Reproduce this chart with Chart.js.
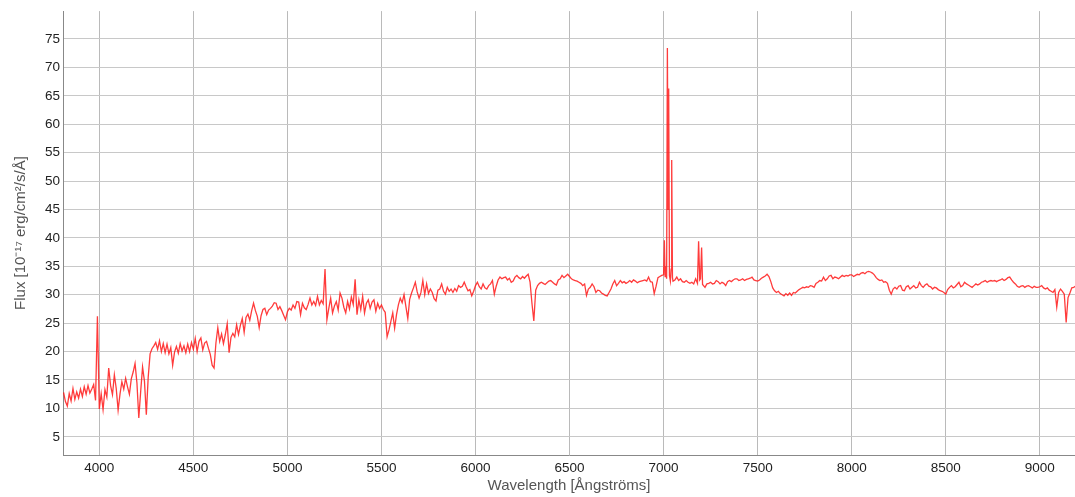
<!DOCTYPE html>
<html>
<head>
<meta charset="utf-8">
<title>Spectrum</title>
<script src="https://cdn.jsdelivr.net/npm/chart.js@4.4.1/dist/chart.umd.min.js"></script>
<style>
  html, body { margin: 0; padding: 0; background: #fff; }
  #wrap { width: 1075px; height: 497px; position: relative; }
</style>
</head>
<body>
<div id="wrap"><canvas id="specChart"></canvas></div>
<script>
// wavelength samples (Å) and flux (1e-17 erg/cm2/s/Å), row by row
const wavelength = [
  3810, 3820, 3830, 3840, 3850, 3860, 3870, 3880, 3890, 3900,
  3910, 3920, 3930, 3940, 3950, 3960, 3970, 3980, 3990, 4000,
  4010, 4020, 4030, 4040, 4050, 4060, 4070, 4080, 4090, 4100,
  4110, 4120, 4130, 4140, 4150, 4160, 4170, 4180, 4190, 4200,
  4210, 4220, 4230, 4240, 4250, 4260, 4270, 4280, 4290, 4300,
  4310, 4320, 4330, 4340, 4350, 4360, 4370, 4380, 4390, 4400,
  4410, 4420, 4430, 4440, 4450, 4460, 4470, 4480, 4490, 4500,
  4510, 4520, 4530, 4540, 4550, 4560, 4570, 4580, 4590, 4600,
  4610, 4620, 4630, 4640, 4650, 4660, 4670, 4680, 4690, 4700,
  4710, 4720, 4730, 4740, 4750, 4760, 4770, 4780, 4790, 4800,
  4810, 4820, 4830, 4840, 4850, 4860, 4870, 4880, 4890, 4900,
  4910, 4920, 4930, 4940, 4950, 4960, 4970, 4980, 4990, 5000,
  5010, 5020, 5030, 5040, 5050, 5060, 5070, 5080, 5090, 5100,
  5110, 5120, 5130, 5140, 5150, 5160, 5170, 5180, 5190, 5200,
  5210, 5220, 5230, 5240, 5250, 5260, 5270, 5280, 5290, 5300,
  5310, 5320, 5330, 5340, 5350, 5360, 5370, 5380, 5390, 5400,
  5410, 5420, 5430, 5440, 5450, 5460, 5470, 5480, 5490, 5500,
  5510, 5520, 5530, 5540, 5550, 5560, 5570, 5580, 5590, 5600,
  5610, 5620, 5630, 5640, 5650, 5660, 5670, 5680, 5690, 5700,
  5710, 5720, 5730, 5740, 5750, 5760, 5770, 5780, 5790, 5800,
  5810, 5820, 5830, 5840, 5850, 5860, 5870, 5880, 5890, 5900,
  5910, 5920, 5930, 5940, 5950, 5960, 5970, 5980, 5990, 6000,
  6010, 6020, 6030, 6040, 6050, 6060, 6070, 6080, 6090, 6100,
  6110, 6120, 6130, 6140, 6150, 6160, 6170, 6180, 6190, 6200,
  6210, 6220, 6230, 6240, 6250, 6260, 6270, 6280, 6290, 6300,
  6310, 6320, 6330, 6340, 6350, 6360, 6370, 6380, 6390, 6400,
  6410, 6420, 6430, 6440, 6450, 6460, 6470, 6480, 6490, 6500,
  6510, 6520, 6530, 6540, 6550, 6560, 6570, 6580, 6590, 6600,
  6610, 6620, 6630, 6640, 6650, 6660, 6670, 6680, 6690, 6700,
  6710, 6720, 6730, 6740, 6750, 6760, 6770, 6780, 6790, 6800,
  6810, 6820, 6830, 6840, 6850, 6860, 6870, 6880, 6890, 6900,
  6910, 6920, 6930, 6940, 6950, 6960, 6970, 6980, 6990, 7000,
  7004, 7008, 7012, 7016, 7020, 7024, 7027, 7031, 7036, 7040, 7043, 7047, 7050,
  7060, 7070, 7080, 7090, 7100, 7110, 7120, 7130, 7140, 7150, 7160, 7170,
  7180, 7186, 7192, 7196, 7202, 7207,
  7220, 7230, 7240, 7250, 7260, 7270, 7280, 7290, 7300,
  7310, 7320, 7330, 7340, 7350, 7360, 7370, 7380, 7390, 7400,
  7410, 7420, 7430, 7440, 7450, 7460, 7470, 7480, 7490, 7500,
  7510, 7520, 7530, 7540, 7550, 7560, 7570, 7580, 7590, 7600,
  7610, 7620, 7630, 7640, 7650, 7660, 7670, 7680, 7690, 7700,
  7710, 7720, 7730, 7740, 7750, 7760, 7770, 7780, 7790, 7800,
  7810, 7820, 7830, 7840, 7850, 7860, 7870, 7880, 7890, 7900,
  7910, 7920, 7930, 7940, 7950, 7960, 7970, 7980, 7990, 8000,
  8010, 8020, 8030, 8040, 8050, 8060, 8070, 8080, 8090, 8100,
  8110, 8120, 8130, 8140, 8150, 8160, 8170, 8180, 8190, 8200,
  8210, 8220, 8230, 8240, 8250, 8260, 8270, 8280, 8290, 8300,
  8310, 8320, 8330, 8340, 8350, 8360, 8370, 8380, 8390, 8400,
  8410, 8420, 8430, 8440, 8450, 8460, 8470, 8480, 8490, 8500,
  8510, 8520, 8530, 8540, 8550, 8560, 8570, 8580, 8590, 8600,
  8610, 8620, 8630, 8640, 8650, 8660, 8670, 8680, 8690, 8700,
  8710, 8720, 8730, 8740, 8750, 8760, 8770, 8780, 8790, 8800,
  8810, 8820, 8830, 8840, 8850, 8860, 8870, 8880, 8890, 8900,
  8910, 8920, 8930, 8940, 8950, 8960, 8970, 8980, 8990, 9000,
  9010, 9020, 9030, 9040, 9050, 9060, 9070, 9080, 9090, 9100,
  9110, 9120, 9130, 9140, 9150, 9160, 9170, 9180, 9190
];

const flux = [
  12.8, 11.2, 10.4, 12.6, 11.3, 13.5, 11.6, 12.9, 11.8, 13.4,
  12.1, 13.8, 12.5, 14.0, 12.7, 13.4, 14.2, 11.4, 26.2, 9.9,
  12.6, 9.8, 13.3, 12.0, 17.1, 14.0, 12.4, 15.9, 13.5, 9.7,
  12.5, 14.7, 13.4, 15.3, 13.8, 12.5, 15.2, 16.4, 17.9, 14.5,
  8.3, 13.0, 17.3, 14.8, 8.9, 15.5, 19.6, 20.5, 21.0, 21.6,
  20.4, 21.9, 20.0, 21.4, 19.8, 21.3, 19.6, 20.7, 17.6, 19.9,
  20.9, 19.7, 21.4, 20.1, 21.0, 19.8, 21.3, 20.0, 21.6, 20.4,
  22.3, 20.0, 21.8, 22.4, 20.3, 21.5, 21.8, 20.6, 19.5, 17.6,
  17.1, 21.5, 24.2, 21.8, 23.1, 21.4, 23.0, 24.9, 19.8, 22.5,
  23.2, 22.6, 24.7, 23.0, 24.6, 25.8, 23.4, 26.0, 26.6, 25.5,
  27.2, 28.5, 27.2, 26.2, 24.2, 26.3, 27.4, 27.6, 26.5, 27.3,
  27.6, 28.0, 28.6, 28.5, 27.4, 27.9, 27.2, 26.4, 25.6, 27.0,
  27.6, 27.3, 28.2, 27.6, 28.8, 28.7, 26.5, 28.5, 27.7, 27.4,
  28.3, 29.4, 28.2, 28.8, 28.1, 29.7, 28.2, 29.0, 28.4, 34.5,
  25.6, 27.6, 29.4, 26.8, 28.0, 28.8, 27.3, 30.3, 29.4, 27.8,
  26.8, 28.8, 27.5, 29.6, 28.3, 32.7, 26.5, 29.1, 27.4, 29.7,
  26.8, 28.5, 29.1, 27.6, 28.7, 29.1, 27.1, 28.5, 27.6, 28.2,
  27.4, 26.9, 22.6, 23.8, 25.3, 26.8, 24.1, 26.5, 28.2, 29.4,
  28.6, 30.0, 27.9, 25.8, 29.2, 30.3, 31.2, 32.2, 30.5, 29.4,
  30.4, 32.5, 30.0, 31.9, 30.2, 31.0, 30.4, 29.3, 28.9, 30.8,
  31.0, 31.9, 30.6, 30.1, 31.3, 30.6, 31.0, 30.4, 31.1, 30.6,
  31.6, 31.3, 31.5, 32.2, 31.4, 30.7, 30.9, 29.8, 30.6, 31.6,
  32.2, 31.4, 31.0, 31.9, 31.2, 31.0, 31.6, 31.9, 32.5, 30.1,
  31.5, 32.6, 33.1, 32.8, 33.0, 33.1, 32.6, 32.9, 32.2, 32.4,
  33.1, 33.4, 33.0, 32.8, 33.2, 32.9, 33.3, 33.6, 32.2, 28.5,
  25.4, 30.8, 31.6, 32.0, 32.2, 32.0, 31.8, 32.1, 32.4, 32.5,
  32.2, 31.9, 31.7, 32.6, 32.8, 33.4, 33.0, 33.3, 33.6, 33.2,
  32.8, 32.6, 32.5, 32.4, 32.2, 32.0, 31.6, 31.9, 29.9, 31.0,
  31.3, 31.9, 31.4, 30.4, 30.8, 30.7, 30.3, 30.1, 29.9, 29.8,
  30.4, 31.0, 31.9, 32.5, 31.6, 32.0, 32.5, 32.1, 32.3, 32.0,
  32.2, 32.5, 32.2, 32.6, 32.4, 32.1, 32.3, 32.4, 32.5, 32.6,
  32.4, 33.1, 32.3, 32.2, 30.2, 31.5, 33.0, 33.2, 33.4, 33.5,
  39.6, 33.2, 35.0, 32.8, 73.4, 45.0, 66.3, 33.4, 32.4, 34.5, 53.7, 33.0, 32.4,
  32.6, 33.1, 32.5, 32.8, 32.3, 32.2, 32.5, 32.2, 32.0, 32.2, 31.9, 32.8,
  32.0, 39.4, 32.6, 32.8, 38.3, 31.8,
  31.3, 31.9, 32.0, 32.2, 31.9, 32.0, 32.5, 32.3, 31.9,
  32.2, 32.0, 31.6, 32.3, 32.5, 32.3, 32.6, 32.8, 32.8, 32.5,
  32.6, 32.8, 32.5, 32.7, 32.8, 32.9, 33.1, 32.6, 32.5, 32.4,
  32.6, 32.9, 33.1, 33.3, 33.6, 33.2, 32.3, 31.2, 30.7, 30.4,
  30.6, 30.2, 30.0, 29.8, 30.2, 29.9, 30.3, 29.9, 30.4, 30.3,
  30.6, 30.9, 31.1, 31.3, 31.2, 31.4, 31.3, 31.6, 31.5, 31.3,
  32.0, 32.2, 32.5, 32.4, 33.1, 32.5, 32.8, 33.3, 33.4, 32.8,
  33.1, 33.0, 32.8, 33.1, 33.4, 33.2, 33.4, 33.3, 33.5, 33.5,
  33.2, 33.4, 33.6, 33.5, 33.8, 33.9, 33.7, 34.0, 34.1, 34.0,
  33.8, 33.5, 33.0, 32.7, 32.5, 32.6, 32.2, 32.3, 32.0, 30.8,
  30.1, 31.0, 31.3, 31.0, 31.5, 31.6, 30.8, 30.7, 31.4, 31.6,
  31.0, 31.3, 31.6, 31.2, 31.3, 32.2, 31.6, 31.3, 31.7, 31.9,
  31.5, 31.4, 31.0, 31.3, 31.2, 30.9, 30.7, 30.6, 30.4, 30.1,
  30.9, 31.3, 31.6, 31.2, 31.4, 31.8, 32.2, 31.4, 31.6, 32.2,
  31.9, 31.7, 31.5, 31.3, 31.6, 31.9, 31.7, 31.9, 32.2, 32.3,
  32.5, 32.2, 32.4, 32.5, 32.4, 32.5, 32.3, 32.5, 32.6, 32.8,
  32.5, 32.7, 33.0, 33.1, 32.6, 32.2, 31.9, 31.5, 31.3, 31.5,
  31.6, 31.3, 31.5, 31.6, 31.4, 31.2, 31.5, 31.3, 31.3, 31.4,
  31.6, 31.2, 31.0, 31.2, 30.8, 30.6, 30.4, 30.9, 27.8, 30.4,
  31.0, 30.6, 30.1, 25.1, 29.5, 30.3, 31.2, 31.3, 31.5
];

// axis ranges and the tick values that get labels and grid lines
const waveRange = [3807, 9187];
const fluxRange = [1.8, 79.9];
const waveTicks = [4000, 4500, 5000, 5500, 6000, 6500, 7000, 7500, 8000, 8500, 9000];
const fluxTicks = [5, 10, 15, 20, 25, 30, 35, 40, 45, 50, 55, 60, 65, 70, 75];

const points = wavelength.map((w, i) => ({ x: w, y: flux[i] }));

const fontFamily = "'Liberation Sans', Arial, sans-serif";

const ctx = document.getElementById('specChart').getContext('2d');

const specChart = new Chart(ctx, {
  type: 'line',
  data: {
    datasets: [{
      data: points,
      borderColor: 'rgba(255, 25, 25, 0.85)',
      borderWidth: 1.3,
      pointRadius: 0,
      tension: 0,
      fill: false
    }]
  },
  options: {
    responsive: true,
    maintainAspectRatio: false,
    animation: false,
    layout: {
      padding: { top: 10, right: 0, left: 0, bottom: 0 }
    },
    plugins: {
      legend: { display: false },
      tooltip: { enabled: false }
    },
    scales: {
      x: {
        type: 'linear',
        min: waveRange[0],
        max: waveRange[1],
        afterBuildTicks: (scale) => {
          scale.ticks = waveTicks.map(v => ({ value: v }));
        },
        afterFit: (scale) => { scale.height = 42; },
        ticks: {
          autoSkip: false,
          maxRotation: 0,
          padding: 5,
          color: '#222',
          font: { family: fontFamily, size: 13.5 },
          callback: (v) => String(v)
        },
        grid: { color: '#bababa', drawTicks: false },
        border: { color: '#888' },
        title: {
          display: true,
          text: 'Wavelength [Ångströms]',
          color: '#555',
          font: { family: fontFamily, size: 15 },
          padding: { top: 0, bottom: 2 }
        }
      },
      y: {
        min: fluxRange[0],
        max: fluxRange[1],
        afterBuildTicks: (scale) => {
          scale.ticks = fluxTicks.map(v => ({ value: v }));
        },
        afterFit: (scale) => { scale.width = 63; },
        ticks: {
          autoSkip: false,
          padding: 3,
          color: '#222',
          font: { family: fontFamily, size: 13.5 }
        },
        grid: { color: '#c8c8c8', drawTicks: false },
        border: { color: '#888' },
        title: {
          display: true,
          text: 'Flux [10⁻¹⁷ erg/cm²/s/Å]',
          color: '#555',
          font: { family: fontFamily, size: 15 },
          padding: { top: 12, bottom: 0 }
        }
      }
    }
  }
});
</script>
</body>
</html>
